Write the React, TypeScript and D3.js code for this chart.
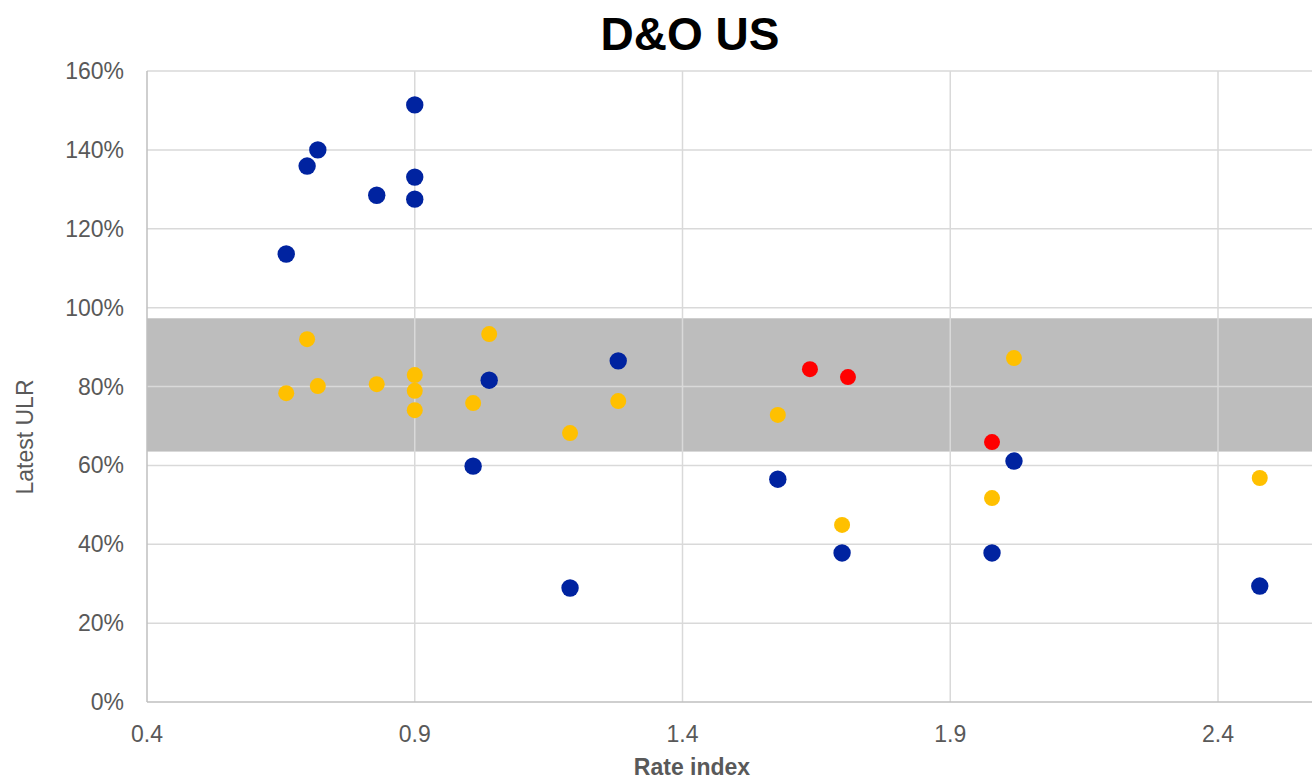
import React from 'react';
import * as d3 from 'd3';

// Rate index (x) and latest ULR in % (y)
const blueX = [0.9, 0.719, 0.699, 0.829, 0.9, 0.9, 0.66, 1.039, 1.009, 1.28, 1.19, 1.578, 1.698, 1.978, 2.019, 2.478];
const blueY = [151.4, 140.0, 135.9, 128.5, 133.1, 127.5, 113.6, 81.6, 59.8, 86.5, 28.9, 56.5, 37.8, 37.8, 61.1, 29.4];

const yellowX = [0.699, 0.66, 0.719, 0.829, 0.9, 0.9, 0.9, 1.009, 1.039, 1.19, 1.28, 1.578, 1.698, 1.978, 2.019, 2.478];
const yellowY = [92.0, 78.3, 80.1, 80.6, 82.9, 78.9, 74.0, 75.8, 93.3, 68.2, 76.3, 72.8, 44.9, 51.7, 87.2, 56.8];

const redX = [1.638, 1.709, 1.978];
const redY = [84.4, 82.4, 65.9];

// shaded band of ULR
const bandLow = 63.5;
const bandHigh = 97.3;

const xTicks = [0.4, 0.9, 1.4, 1.9, 2.4];
const yTicks = [0, 20, 40, 60, 80, 100, 120, 140, 160];

const W = 1312;
const H = 780;
const FONT = 'Liberation Sans, Arial, sans-serif';

export default function App() {
  const x = d3.scaleLinear().domain([0.4, 2.4]).range([147, 1218]);
  const y = d3.scaleLinear().domain([0, 160]).range([702, 71]);
  const xRight = W;

  const series = [
    { xs: yellowX, ys: yellowY, color: '#FFC000', r: 8 },
    { xs: redX, ys: redY, color: '#FF0000', r: 8 },
    { xs: blueX, ys: blueY, color: '#0023A0', r: 8.7 },
  ];

  return (
    <div style={{ position: 'fixed', left: 0, top: 0, width: W, height: H, background: '#fff' }}>
      <svg width={W} height={H} style={{ display: 'block', fontFamily: FONT }}>
        <rect width={W} height={H} fill="#fff" />

        {/* band */}
        <rect
          x={x(0.4)}
          y={y(bandHigh)}
          width={xRight - x(0.4)}
          height={y(bandLow) - y(bandHigh)}
          fill="#BDBDBD"
        />

        {/* gridlines */}
        {yTicks.filter(t => t > 0).map(t => (
          <line key={'gy' + t} x1={x(0.4)} x2={xRight} y1={y(t)} y2={y(t)} stroke="#D9D9D9" strokeWidth={1.5} />
        ))}
        {xTicks.filter(t => t > 0.4).map(t => (
          <line key={'gx' + t} x1={x(t)} x2={x(t)} y1={y(160)} y2={y(0)} stroke="#D9D9D9" strokeWidth={1.5} />
        ))}

        {/* axes */}
        <line x1={x(0.4)} x2={x(0.4)} y1={y(160)} y2={y(0)} stroke="#BFBFBF" strokeWidth={1.5} />
        <line x1={x(0.4)} x2={xRight} y1={y(0)} y2={y(0)} stroke="#BFBFBF" strokeWidth={1.5} />

        {/* tick labels */}
        {yTicks.map(t => (
          <text key={'ty' + t} x={124} y={y(t) + 8} textAnchor="end" fontSize={23} fill="#595959">
            {t + '%'}
          </text>
        ))}
        {xTicks.map(t => (
          <text key={'tx' + t} x={x(t)} y={742} textAnchor="middle" fontSize={23} fill="#595959">
            {d3.format('.1f')(t)}
          </text>
        ))}

        {/* points */}
        {series.map((s, si) =>
          s.xs.map((v, i) => (
            <circle key={si + '-' + i} cx={x(v)} cy={y(s.ys[i])} r={s.r} fill={s.color} />
          ))
        )}

        {/* titles */}
        <text x={690} y={50} textAnchor="middle" fontSize={46} fontWeight="bold" fill="#000">
          D&amp;O US
        </text>
        <text x={692} y={775} textAnchor="middle" fontSize={23} fontWeight="bold" fill="#595959">
          Rate index
        </text>
        <text transform="translate(33,437) rotate(-90)" textAnchor="middle" fontSize={23} fill="#595959">
          Latest ULR
        </text>
      </svg>
    </div>
  );
}
